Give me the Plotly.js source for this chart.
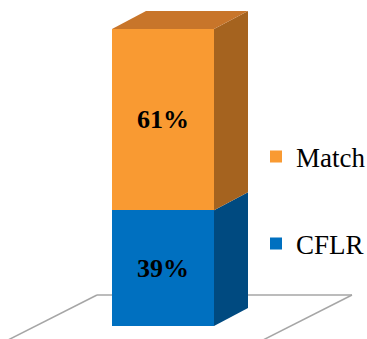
<!DOCTYPE html>
<html>
<head>
<meta charset="utf-8">
<script src="https://cdn.plot.ly/plotly-3.0.1.min.js"></script>
<style>html,body{margin:0;padding:0;background:#fff;}#chart{width:367px;height:339px;}</style>
</head>
<body>
<div id="chart"></div>
<script>
// ---- data ----
const seriesNames = ["CFLR", "Match"];
const seriesValues = [39, 61];
const valueLabels = ["39%", "61%"];
const category = [0];

// ---- style ----
const frontColors = ["#0070C0", "#F99A32"];
const sideColors  = ["#004A80", "#A5631F"];
const topColors   = ["#005A9C", "#C8752A"];
const W = 367, H = 339;
// pixel mapping of axes (bar center px 163, width 102 px; 0% at 326 px, 100% at 29 px)
const pxPerX = 102, x0px = 163;
const pxPerY = 2.97, y0px = 326;
const xr = [(0 - x0px) / pxPerX, (W - x0px) / pxPerX];
const yr = [(y0px - H) / pxPerY, (y0px - 0) / pxPerY];
const depthX = 34 / pxPerX, depthY = 18 / pxPerY;
const half = 0.5;
function px2x(p){ return (p - x0px) / pxPerX; }
function px2y(p){ return (y0px - p) / pxPerY; }

// side faces & top face computed from stacked values
let base = 0;
const sideTraces = [];
seriesValues.forEach((v, i) => {
  const b0 = base, b1 = base + v;
  sideTraces.push({
    type: "scatter", mode: "lines", fill: "toself",
    x: [category[0] + half, category[0] + half + depthX, category[0] + half + depthX, category[0] + half],
    y: [b0, b0 + depthY, b1 + depthY, b1],
    fillcolor: sideColors[i], line: {width: 0, color: sideColors[i]},
    showlegend: false, hoverinfo: "skip"
  });
  base = b1;
});
const topTrace = {
  type: "scatter", mode: "lines", fill: "toself",
  x: [category[0] - half, category[0] - half + depthX, category[0] + half + depthX, category[0] + half],
  y: [base, base + depthY, base + depthY, base],
  fillcolor: topColors[seriesValues.length - 1], line: {width: 0, color: topColors[seriesValues.length - 1]},
  showlegend: false, hoverinfo: "skip"
};

const barTraces = seriesValues.map((v, i) => ({
  type: "bar", name: seriesNames[i], x: category, y: [v], width: [1],
  marker: {color: frontColors[i], line: {width: 0}},
  text: [valueLabels[i]], textposition: "inside", insidetextanchor: "middle",
  textangle: 0, constraintext: "none",
  textfont: {family: "Liberation Serif, Times New Roman, serif", size: 26, color: "#000", weight: "bold"},
  legend: i === 0 ? "legend2" : "legend",
  hoverinfo: "skip"
}));

const data = [...sideTraces, topTrace, ...barTraces];

// floor (decoration)
const floorColor = "#A6A6A6";
const shapes = [
  {type: "line", layer: "below", x0: px2x(97), y0: px2y(295), x1: px2x(352), y1: px2y(295), line: {color: floorColor, width: 1.5}},
  {type: "line", layer: "below", x0: px2x(97), y0: px2y(295), x1: px2x(97 - 85/43*55), y1: px2y(350), line: {color: floorColor, width: 1.5}},
  {type: "line", layer: "below", x0: px2x(352), y0: px2y(295), x1: px2x(352 - 85/43*55), y1: px2y(350), line: {color: floorColor, width: 1.5}}
];

const legendFont = {family: "Liberation Serif, Times New Roman, serif", size: 27, color: "#000"};
const layout = {
  width: W, height: H,
  margin: {l: 0, r: 0, t: 0, b: 0, pad: 0, autoexpand: false},
  paper_bgcolor: "#fff", plot_bgcolor: "#fff",
  barmode: "stack",
  xaxis: {range: xr, visible: false, fixedrange: true},
  yaxis: {range: yr, visible: false, fixedrange: true},
  shapes: shapes,
  legend: {x: 256 / W, xanchor: "left", y: 1 - 157 / H, yanchor: "middle", font: legendFont, bgcolor: "rgba(0,0,0,0)"},
  legend2: {x: 256 / W, xanchor: "left", y: 1 - 244 / H, yanchor: "middle", font: legendFont, bgcolor: "rgba(0,0,0,0)"},
  showlegend: true
};

Plotly.newPlot("chart", data, layout, {displayModeBar: false, staticPlot: true});
</script>
</body>
</html>
